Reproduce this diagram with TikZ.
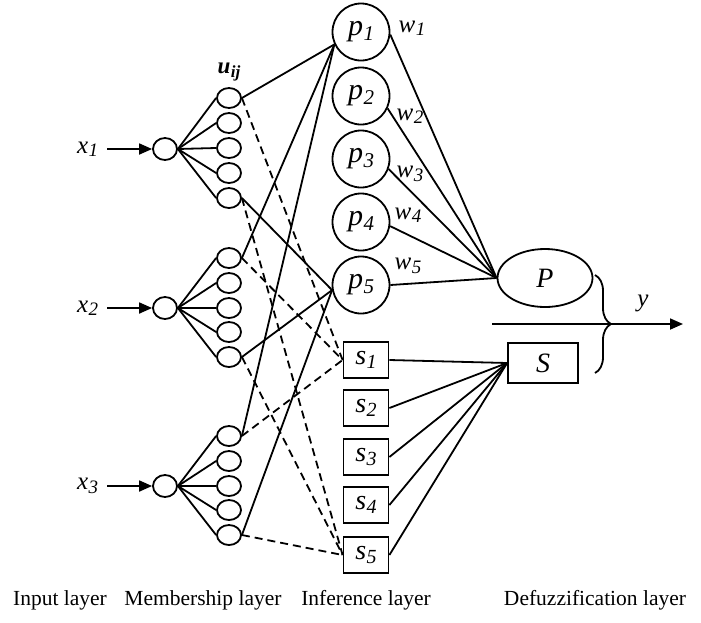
\documentclass[tikz,border=0pt]{standalone}
\usepackage{fontspec}
\setmainfont{Liberation Serif}
\usetikzlibrary{shapes.geometric,arrows.meta,decorations.pathreplacing}
\newcommand\sx[3][19]{#2\kern0.5pt\raisebox{-0.3ex}{\fontsize{#1}{#1}\selectfont #3}}
\begin{document}
\begin{tikzpicture}[x=1pt,y=-1pt,line width=1.8pt,
 every node/.style={inner sep=0pt},
 inp/.style={ellipse,draw,minimum width=24pt,minimum height=22pt},
 mem/.style={ellipse,draw,minimum width=24pt,minimum height=20pt},
 pnode/.style={circle,draw,minimum size=57pt,font=\fontsize{30}{32}\selectfont\itshape},
 snode/.style={rectangle,draw,minimum width=45pt,minimum height=36pt,font=\fontsize{28}{30}\selectfont\itshape},
 bignode/.style={draw,font=\fontsize{28}{30}\selectfont\itshape},
 lab/.style={font=\fontsize{25}{27}\selectfont\itshape},
 layer/.style={font=\fontsize{21.5}{24}\selectfont},
 dsh/.style={dash pattern=on 8pt off 5pt},
 tip/.style={-{Triangle[length=13pt,width=11pt]}}]
\useasboundingbox (0,0) rectangle (701,622);

% input layer
\node[inp] (in1) at (165,149) {};
\node[inp] (in2) at (165,308) {};
\node[inp] (in3) at (165,486) {};
\foreach \g/\y in {1/149,2/308,3/486}
  \node[lab,anchor=east] (xl\g) at (99,\y) {\sx{x}{\g}};
\foreach \g in {1,2,3}
  \draw[tip,shorten <=8pt] (xl\g.east) -- (in\g.west);

% membership layer
\foreach \y [count=\k] in {98,123,148,173,198} \node[mem] (m1\k) at (229,\y) {};
\foreach \y [count=\k] in {258,283,308,332,357} \node[mem] (m2\k) at (229,\y) {};
\foreach \y [count=\k] in {436,461,486,510,535} \node[mem] (m3\k) at (229,\y) {};
\foreach \g in {1,2,3}
  \foreach \k in {1,...,5}
    \draw (in\g.east) -- (m\g\k.west);
\node[font=\fontsize{23}{24}\selectfont\bfseries\itshape] (uij) at (229,72) {\sx[17]{u}{ij}};

% inference layer
\foreach \y [count=\i] in {32,96,159,222,285}
  \node[pnode] (p\i) at (361,\y) {\sx[21]{p}{\i}};
\foreach \y [count=\i] in {360,408,457,505,555}
  \node[snode] (s\i) at (366,\y) {\sx[20]{s}{\i}};

% defuzzification layer
\node[bignode,ellipse,minimum width=95pt,minimum height=58pt] (P) at (545,278) {P};
\node[bignode,rectangle,minimum width=70pt,minimum height=40pt] (S) at (543,363) {S};

% weights
\foreach \i/\x/\y in {1/412/28,2/410/116,3/410/174,4/408/215,5/408/266}
  \node[lab] (w\i) at (\x,\y) {\sx{w}{\i}};

% rule nodes to P and S
\draw (p1.-5) -- (P.west);
\draw (p2.-25) -- (P.west);
\draw (p3.-20) -- (P.west);
\draw (p4.-8) -- (P.west);
\draw (p5.east) -- (P.west);
\foreach \i in {1,...,5} \draw (s\i.east) -- (S.west);

% membership to rule nodes
\foreach \g in {1,2,3} {
  \draw (m\g1.east) -- (p1.205);
  \draw (m\g5.east) -- (p5.190);
  \draw[dsh] (m\g1.east) -- (s1.west);
  \draw[dsh] (m\g5.east) -- (s5.west);
}

% output
\coordinate (ya) at (492,324);
\coordinate (yb) at (683,324);
\draw[tip] (ya) -- (yb);
\node[lab] (yl) at (643,303) {y};
\coordinate (bt) at (595,275);
\coordinate (bb) at (595,373);
\draw[decorate,decoration={brace,amplitude=16pt}] (bt) -- (bb);

% layer captions
\node[layer] (L1) at (60,600) {Input layer};
\node[layer] (L2) at (203,600) {Membership layer};
\node[layer] (L3) at (366,600) {Inference layer};
\node[layer] (L4) at (595,600) {Defuzzification layer};
\end{tikzpicture}
\end{document}
